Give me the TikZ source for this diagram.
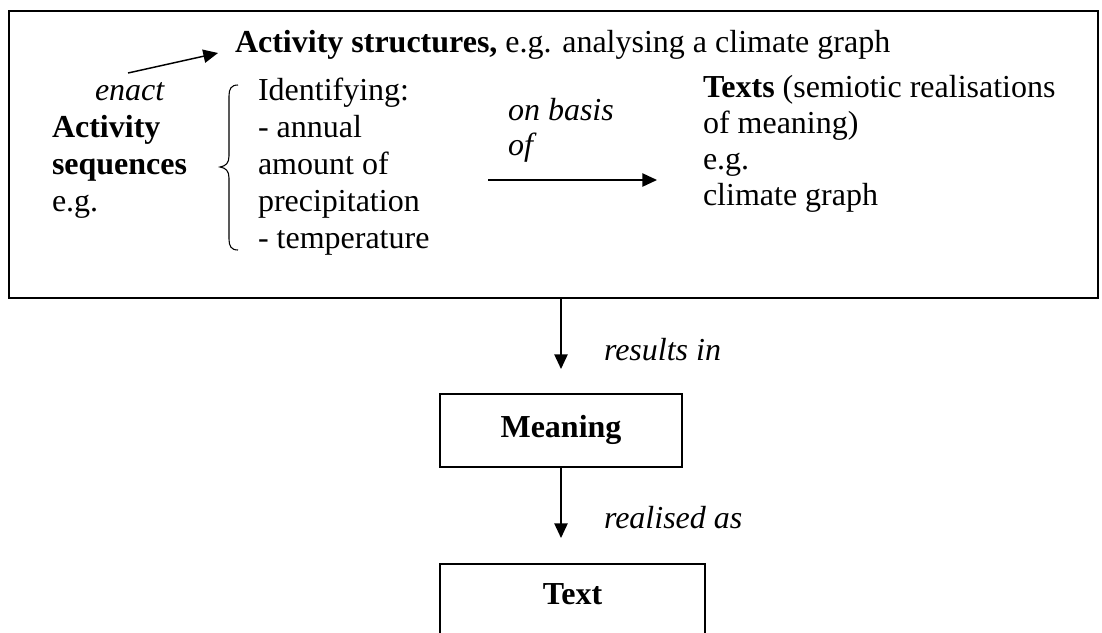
\documentclass[tikz,border=0pt]{standalone}
\usepackage{fontspec}
\setmainfont{Liberation Serif}
\usetikzlibrary{arrows.meta}

\tikzset{
  txt/.style={inner sep=0pt, outer sep=0pt, anchor=base west,
    font=\fontsize{24}{27.75}\selectfont},
  ctxt/.style={txt, anchor=base},
  frame/.style={draw, line width=1.5pt, inner sep=0pt, minimum width=#1},
  flow/.style={-{Triangle[length=11pt,width=10pt]}, line width=1.1pt},
  bracepath/.style={line width=0.8pt},
}

\begin{document}
\begin{tikzpicture}[x=0.75pt, y=-0.75pt]
  \useasboundingbox (0,0) rectangle (1102,632);

  % outer frame of the activity block
  \node[frame=816.75pt, minimum height=215.25pt] (block) at (553.5,154.5) {};

  % heading line
  \node[txt] (struct) at (235,52) {\textbf{Activity structures,} e.g. analysing a climate graph};

  % left column
  \node[txt] (enact) at (95,100) {\itshape enact};
  \node[txt] (seq1) at (52,137) {\textbf{Activity}};
  \node[txt] (seq2) at (52,174) {\textbf{sequences}};
  \node[txt] (seq3) at (52,211) {e.g.};

  \coordinate (enactfrom) at (128,73);
  \coordinate (enactto) at (218,53);
  \draw[flow] (enactfrom) -- (enactto);

  % curly brace
  \draw[bracepath] (238,85) .. controls (231,85) and (229,89) .. (229,96)
    -- (229,156) .. controls (229,163) and (226,166) .. (220,167)
    .. controls (226,168) and (229,171) .. (229,178)
    -- (229,239) .. controls (229,246) and (231,250) .. (238,250);

  % identified items
  \node[txt] (id1) at (258,100) {Identifying:};
  \node[txt] (id2) at (258,137) {- annual};
  \node[txt] (id3) at (258,174) {amount of};
  \node[txt] (id4) at (258,211) {precipitation};
  \node[txt] (id5) at (258,248) {- temperature};

  % basis arrow
  \node[txt] (basis1) at (508,120) {\itshape on basis};
  \node[txt] (basis2) at (508,155) {\itshape of};
  \coordinate (basisfrom) at (488,180);
  \coordinate (basisto) at (657,180);
  \draw[flow] (basisfrom) -- (basisto);

  % texts column
  \node[txt] (texts1) at (703,97) {\textbf{Texts} (semiotic realisations};
  \node[txt] (texts2) at (703,133) {of meaning)};
  \node[txt] (texts3) at (703,169) {e.g.};
  \node[txt] (texts4) at (703,205) {climate graph};

  % lower chain
  \node[frame=181.5pt, minimum height=54.75pt] (meaningbox) at (561,430.5) {};
  \node[ctxt] (meaning) at (561,437) {\textbf{Meaning}};

  \node[frame=198.75pt, minimum height=75pt, anchor=north] (textbox) at (572.5,563) {};
  \node[ctxt] (text) at (572.5,604) {\textbf{Text}};

  \draw[flow, shorten >=18pt] (block.south -| meaningbox.north) -- (meaningbox.north);
  \node[txt] (results) at (604,360) {\itshape results in};

  \draw[flow, shorten >=18.75pt] (meaningbox.south) -- (meaningbox.south |- textbox.north);
  \node[txt] (realised) at (604,528) {\itshape realised as};
\end{tikzpicture}
\end{document}
